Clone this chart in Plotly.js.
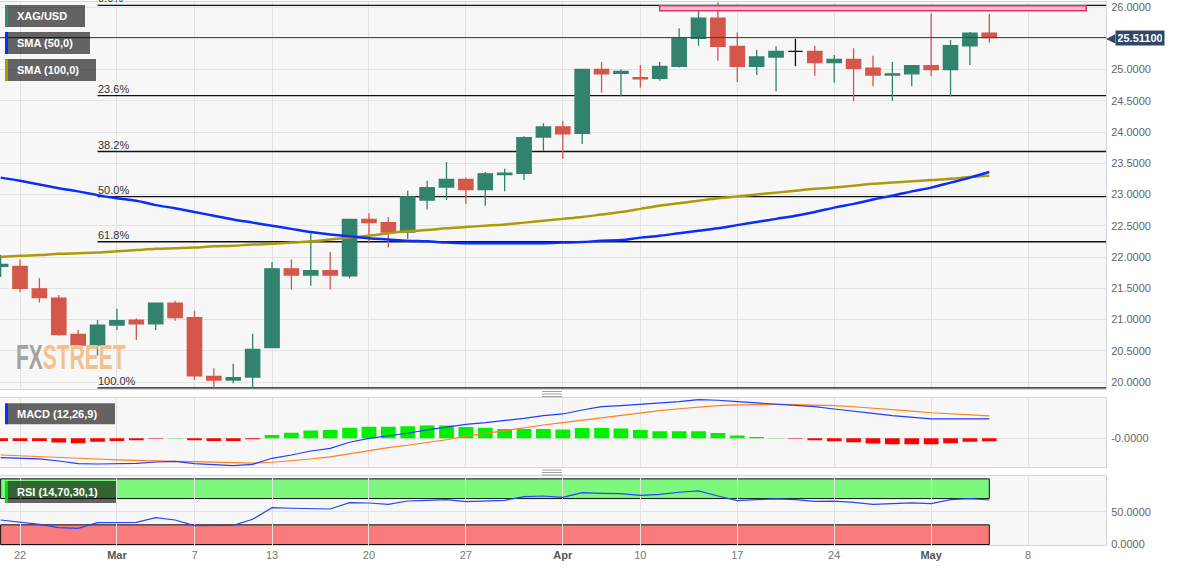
<!DOCTYPE html>
<html><head><meta charset="utf-8">
<script src="https://cdn.plot.ly/plotly-3.0.1.min.js"></script>
<style>html,body{margin:0;padding:0;background:#fff}#chart{width:1182px;height:571px}</style>
</head><body><div id="chart"></div>
<script>
// ---------- data ----------
const dates = ['2023-02-21','2023-02-22','2023-02-23','2023-02-24','2023-02-27','2023-02-28',
 '2023-03-01','2023-03-02','2023-03-03','2023-03-06','2023-03-07','2023-03-08','2023-03-09','2023-03-10',
 '2023-03-13','2023-03-14','2023-03-15','2023-03-16','2023-03-17','2023-03-20','2023-03-21','2023-03-22',
 '2023-03-23','2023-03-24','2023-03-27','2023-03-28','2023-03-29','2023-03-30','2023-03-31',
 '2023-04-03','2023-04-04','2023-04-05','2023-04-06','2023-04-10','2023-04-11','2023-04-12','2023-04-13',
 '2023-04-14','2023-04-17','2023-04-18','2023-04-19','2023-04-20','2023-04-21','2023-04-24','2023-04-25',
 '2023-04-26','2023-04-27','2023-04-28','2023-05-01','2023-05-02','2023-05-03','2023-05-04'];
const futureDates = ['2023-05-05','2023-05-08','2023-05-09','2023-05-10','2023-05-11','2023-05-12'];

const open  = [21.85,21.85,21.49,21.34,20.76,20.59,20.91,20.99,20.93,21.26,21.03,20.09,20.03,20.08,
 20.55,21.81,21.71,21.78,21.70,22.60,22.55,22.40,22.91,23.12,23.24,23.08,23.32,23.34,23.92,
 24.08,23.98,25.00,24.94,24.87,24.86,25.05,25.50,25.82,25.37,25.05,25.20,25.29,25.29,25.11,25.16,
 25.02,24.91,24.93,25.06,25.00,25.38,25.58];
const high  = [22.03,21.96,21.66,21.39,20.83,20.99,21.17,21.02,21.27,21.30,21.14,20.22,20.29,20.77,
 21.92,21.96,22.38,22.08,22.61,22.70,22.64,23.06,23.22,23.52,23.27,23.36,23.41,23.93,24.14,
 24.18,25.01,25.12,25.00,25.07,25.12,25.66,25.96,26.07,25.59,25.31,25.37,25.49,25.38,25.23,25.34,
 25.22,25.12,25.06,25.90,25.47,25.60,25.89];
const low   = [21.68,21.44,21.27,20.74,20.56,20.42,20.83,20.67,20.83,20.98,20.03,19.90,19.98,19.90,
 20.55,21.48,21.54,21.48,21.66,22.22,22.15,22.29,22.76,22.91,22.85,22.82,23.05,23.23,23.70,
 23.57,23.81,24.63,24.57,24.71,24.82,25.03,25.38,25.14,24.80,24.91,24.65,25.05,24.90,24.79,24.49,
 24.73,24.50,24.73,24.89,24.57,25.07,25.43];
const close = [21.88,21.50,21.35,20.76,20.59,20.91,20.98,20.93,21.26,21.03,20.10,20.03,20.07,20.52,
 21.81,21.71,21.78,21.71,22.60,22.55,22.40,22.96,23.11,23.24,23.08,23.33,23.34,23.91,24.08,
 23.97,25.00,24.93,24.97,24.85,25.05,25.50,25.82,25.37,25.05,25.20,25.29,25.29,25.11,25.16,25.02,
 24.91,24.93,25.06,25.00,25.38,25.58,25.511];

const sma50 = [23.27,23.22,23.16,23.10,23.05,22.99,22.94,22.90,22.83,22.78,22.72,22.66,22.60,22.55,
 22.50,22.45,22.40,22.36,22.33,22.30,22.28,22.26,22.25,22.23,22.22,22.22,22.22,22.22,22.22,
 22.23,22.24,22.26,22.27,22.31,22.34,22.38,22.42,22.46,22.51,22.56,22.61,22.66,22.72,22.79,22.85,
 22.92,22.98,23.05,23.11,23.19,23.27,23.36];
const sma100 = [22.00,22.02,22.03,22.05,22.06,22.07,22.09,22.11,22.13,22.14,22.15,22.17,22.18,22.20,
 22.21,22.23,22.25,22.28,22.31,22.34,22.38,22.41,22.43,22.46,22.48,22.50,22.52,22.55,22.58,
 22.61,22.64,22.68,22.72,22.77,22.82,22.86,22.90,22.94,22.97,23.00,23.03,23.06,23.09,23.11,23.14,
 23.17,23.19,23.21,23.23,23.25,23.28,23.30];

const macdLine = [-0.346,-0.357,-0.368,-0.405,-0.453,-0.459,-0.453,-0.446,-0.423,-0.411,-0.453,-0.477,-0.489,-0.464,
 -0.357,-0.298,-0.227,-0.179,-0.071,0.000,0.040,0.090,0.150,0.200,0.250,0.279,0.314,0.357,0.404,
 0.434,0.505,0.564,0.582,0.607,0.625,0.654,0.689,0.679,0.654,0.630,0.607,0.589,0.564,0.523,0.488,
 0.446,0.404,0.375,0.345,0.345,0.345,0.345];
const signalLine = [-0.298,-0.310,-0.322,-0.335,-0.352,-0.370,-0.385,-0.397,-0.405,-0.411,-0.418,-0.428,-0.438,-0.444,
 -0.428,-0.404,-0.370,-0.333,-0.275,-0.215,-0.168,-0.124,-0.076,-0.026,0.040,0.092,0.143,0.190,0.237,
 0.279,0.323,0.372,0.412,0.455,0.494,0.527,0.560,0.582,0.598,0.604,0.604,0.601,0.597,0.583,0.563,
 0.540,0.512,0.484,0.456,0.434,0.415,0.400];
const macdHist = [-0.048,-0.048,-0.048,-0.077,-0.089,-0.060,-0.048,-0.036,-0.010,0.005,-0.036,-0.048,-0.048,-0.018,
 0.060,0.100,0.137,0.149,0.190,0.208,0.208,0.214,0.226,0.226,0.202,0.190,0.167,0.167,0.167,
 0.155,0.184,0.184,0.173,0.149,0.125,0.125,0.125,0.095,0.048,0.024,0.005,-0.010,-0.036,-0.054,-0.071,
 -0.095,-0.107,-0.107,-0.107,-0.089,-0.060,-0.054];

const rsi = [37.3,33.8,30.8,25.6,24.7,33.2,33.8,33.8,40.9,37.3,28.7,28.7,29.2,38.4,
 56.1,55.2,55.2,54.1,63.7,63.2,61.0,66.3,67.3,68.3,65.2,66.8,67.3,72.9,73.9,
 71.9,79.0,78.0,77.5,75.0,76.5,79.6,81.6,73.9,66.8,68.3,69.4,68.3,65.8,66.1,64.3,
 61.3,62.2,63.3,62.2,68.3,69.8,67.8];

const tickDates  = ['2023-02-22','2023-03-01','2023-03-07','2023-03-13','2023-03-20','2023-03-27',
 '2023-04-03','2023-04-10','2023-04-17','2023-04-24','2023-05-01','2023-05-08'];
const tickLabels = ['22','Mar','7','13','20','27','Apr','10','17','24','May','8'];
const monthLabels = ['Mar','Apr','May'];
const priceTicks = [20,20.5,21,21.5,22,22.5,23,23.5,24,24.5,25,25.5,26];

const fibStartDate = '2023-02-28';
const fibLevels = [26.027,24.582,23.688,22.966,22.244,19.905];
const fibLabels = ['0.0%','23.6%','38.2%','50.0%','61.8%','100.0%'];

const zoneDates = ['2023-04-11','2023-05-11'];
const zonePrices = [25.94,26.02];
const rsiBands = [[70,100],[0,30]];

// ---------- helpers ----------
const allCats = dates.concat(futureDates);
const xRange = [-0.032, 57.02];
const lastClose = close[close.length-1];
const UP = '#32836d', DOWN = '#d5574a';

const idxBody = [], idxDoji = [];
open.forEach((o,i)=>{ (o===close[i] ? idxDoji : idxBody).push(i); });
const pick = (arr, idx) => idx.map(i=>arr[i]);

const traces = [
 {type:'candlestick', xaxis:'x', yaxis:'y', x:pick(dates,idxBody), open:pick(open,idxBody),
  high:pick(high,idxBody), low:pick(low,idxBody), close:pick(close,idxBody), whiskerwidth:0,
  increasing:{line:{color:UP,width:1.3}, fillcolor:UP},
  decreasing:{line:{color:DOWN,width:1.3}, fillcolor:DOWN}, hoverinfo:'none'},
 {type:'candlestick', xaxis:'x', yaxis:'y', x:pick(dates,idxDoji), open:pick(open,idxDoji),
  high:pick(high,idxDoji), low:pick(low,idxDoji), close:pick(close,idxDoji), whiskerwidth:0,
  increasing:{line:{color:'#111',width:1.3}, fillcolor:'#111'},
  decreasing:{line:{color:'#111',width:1.3}, fillcolor:'#111'}, hoverinfo:'none'},
 {type:'scatter', mode:'lines', xaxis:'x', yaxis:'y', x:dates, y:sma100,
  line:{color:'#ad9a06', width:2.5, shape:'spline'}, hoverinfo:'none'},
 {type:'scatter', mode:'lines', xaxis:'x', yaxis:'y', x:dates, y:sma50,
  line:{color:'#0a2dff', width:2.5, shape:'spline'}, hoverinfo:'none'},
 {type:'bar', xaxis:'x2', yaxis:'y2', x:dates, y:macdHist,
  marker:{color:macdHist.map(v=> v>=0 ? '#00f000' : '#ff0000'), line:{width:0}}, hoverinfo:'none'},
 {type:'scatter', mode:'lines', xaxis:'x2', yaxis:'y2', x:dates, y:signalLine,
  line:{color:'#ff7f1e', width:1.2}, hoverinfo:'none'},
 {type:'scatter', mode:'lines', xaxis:'x2', yaxis:'y2', x:dates, y:macdLine,
  line:{color:'#1f3dff', width:1.2}, hoverinfo:'none'},
 {type:'scatter', mode:'lines', xaxis:'x3', yaxis:'y3', x:dates, y:rsi,
  line:{color:'#2545ff', width:1.2}, hoverinfo:'none'}
];

const GRID = '#e3e3e3', BORDER = '#d2d6e0';
const xBase = {type:'category', categoryorder:'array', categoryarray:allCats, range:xRange,
  tickmode:'array', tickvals:tickDates, ticktext:tickLabels.map(t=> monthLabels.includes(t) ? '<b><span style="color:#555">'+t+'</span></b>' : t),
  showgrid:true, gridcolor:GRID, showline:true, mirror:true, linecolor:BORDER, linewidth:1,
  ticks:'', zeroline:false, fixedrange:true};
const yBase = {side:'right', showgrid:true, gridcolor:GRID, showline:true, mirror:true,
  linecolor:BORDER, linewidth:1, ticks:'', zeroline:false, fixedrange:true, ticklabelstandoff:2};

const shapes = [];
const annotations = [];

// fib lines
const fibStartIdx = allCats.indexOf(fibStartDate);
fibLevels.forEach((lv,k)=>{
  shapes.push({type:'line', xref:'x', yref:'y', x0:fibStartIdx, x1:xRange[1], y0:lv, y1:lv,
    line:{color:'#111', width:1.3}, layer:'between'});
  annotations.push({xref:'x', yref:'y', x:fibStartIdx, y:lv, xanchor:'left', yanchor:'bottom',
    xshift:-2, yshift:-1, showarrow:false, text:fibLabels[k], font:{size:11, color:'#333'}});
});
// resistance zone
shapes.push({type:'rect', xref:'x', yref:'y', x0:allCats.indexOf(zoneDates[0]), x1:allCats.indexOf(zoneDates[1]),
  y0:zonePrices[0], y1:zonePrices[1], line:{color:'#e5306a', width:1.6}, fillcolor:'#f6bfd0', layer:'above'});
// current price line + tag (tag box is an annotation so it sits over the axis labels)
shapes.push({type:'line', xref:'x domain', yref:'y', x0:0, x1:1, y0:lastClose, y1:lastClose,
  line:{color:'#33475f', width:1}, layer:'above'});
const TAG = '#2f4868';
annotations.push({xref:'paper', yref:'y', x:1, y:lastClose, xanchor:'left', yanchor:'middle', xshift:9, yshift:-0.7,
  showarrow:false, text:'<b>'+lastClose.toFixed(5)+'</b>', font:{size:11, color:'#fff'},
  bgcolor:TAG, borderpad:2, width:44, height:10});
annotations.push({xref:'paper', yref:'y', x:1, y:lastClose, xanchor:'right', yanchor:'middle', xshift:11.5, yshift:-0.7,
  showarrow:false, text:'<span style="color:'+TAG+'">◀</span>', font:{size:12, color:TAG}});

// RSI bands
rsiBands.forEach((b,k)=>{
  shapes.push({type:'rect', xref:'x3', yref:'y3', x0:0, x1:dates.length-1, y0:b[0], y1:b[1],
    fillcolor: k===0 ? '#7cf97c' : '#f97b7b', line:{color:'#111', width:1}, layer:'below'});
});

// panel labels
const labels = [
 {text:'XAG/USD',          stripe:'#2e8b74', ref:'y domain',  top:-3,  bot:-25, right:85},
 {text:'SMA (50,0)',       stripe:'#0a2dff', ref:'y domain',  top:-30, bot:-52, right:90},
 {text:'SMA (100,0)',      stripe:'#ad9a06', ref:'y domain',  top:-57, bot:-79, right:96},
 {text:'MACD (12,26,9)',   stripe:'#0a2dff', ref:'y2 domain', top:-5,  bot:-26, right:115},
 {text:'RSI (14,70,30,1)', stripe:'#00e000', ref:'y3 domain', top:-5,  bot:-27, right:116}
];
labels.forEach(l=>{
  shapes.push({type:'rect', xref:'paper', xsizemode:'pixel', xanchor:0, x0:8, x1:l.right,
    yref:l.ref, ysizemode:'pixel', yanchor:1, y0:l.top, y1:l.bot, fillcolor:'rgba(0,0,0,0.6)', line:{width:0}, layer:'above'});
  shapes.push({type:'rect', xref:'paper', xsizemode:'pixel', xanchor:0, x0:5, x1:8,
    yref:l.ref, ysizemode:'pixel', yanchor:1, y0:l.top, y1:l.bot, fillcolor:l.stripe, line:{width:0}, layer:'above'});
  annotations.push({xref:'paper', yref:l.ref, x:0, y:1, xanchor:'left', yanchor:'middle', xshift:15,
    yshift:(l.top+l.bot)/2, showarrow:false, text:'<b>'+l.text+'</b>', font:{size:11, color:'#fff'}});
});

// drag handles
[0.2781, 0.1335].forEach(py=>{
  [-2.5, 0, 2.5].forEach(dy=>{
    shapes.push({type:'line', xref:'paper', xsizemode:'pixel', xanchor:0.4991, yref:'paper', ysizemode:'pixel', yanchor:py,
      x0:-10, x1:10, y0:dy, y1:dy, line:{color:'#8a8a8a', width:0.8}});
  });
});

// watermark
annotations.push({xref:'paper', yref:'y domain', x:0.0125, y:0.085, xanchor:'left', yanchor:'middle', showarrow:false,
  text:'<b><span style="color:#a3a3a3">FX</span><span style="color:#f3c28c">STREET</span></b>',
  font:{size:35, family:'Liberation Sans, Arial, sans-serif'}});

const yTickText = priceTicks.map(v => Math.abs(v-lastClose) < 0.1 ? '' : v.toFixed(4));

const layout = {
  width:1182, height:571, margin:{l:0, r:76, t:2, b:26},
  paper_bgcolor:'#ffffff', plot_bgcolor:'#f7f7f7', showlegend:false,
  font:{family:'Liberation Sans, Arial, sans-serif', size:11, color:'#666'},
  boxgap:0.26, boxgroupgap:0, bargap:0.24, dragmode:false, hovermode:false,
  xaxis: Object.assign({}, xBase, {anchor:'y', showticklabels:false, rangeslider:{visible:false}}),
  xaxis2: Object.assign({}, xBase, {anchor:'y2', matches:'x', showticklabels:false}),
  xaxis3: Object.assign({}, xBase, {anchor:'y3', matches:'x', showticklabels:true, tickfont:{size:11, color:'#777'}}),
  yaxis: Object.assign({}, yBase, {anchor:'x', domain:[0.2873,1], range:[19.888,26.08], tickmode:'array',
    tickvals:priceTicks, ticktext:yTickText}),
  yaxis2: Object.assign({}, yBase, {anchor:'x2', domain:[0.1442,0.2702], range:[-0.507,0.714], tickmode:'array',
    tickvals:[0], ticktext:['-0.0000']}),
  yaxis3: Object.assign({}, yBase, {anchor:'x3', domain:[0,0.1271], range:[-0.76,104.4], tickmode:'array',
    tickvals:[0,50], tickformat:'.4f'}),
  shapes:shapes, annotations:annotations
};

Plotly.newPlot('chart', traces, layout, {displayModeBar:false, staticPlot:true}).then(gd=>{
  // condense the watermark lettering horizontally, keeping it real text
  gd.querySelectorAll('.annotation-text').forEach(t=>{
    if(t.textContent === 'FXSTREET'){
      const b = t.getBBox();
      const prev = t.getAttribute('transform') || '';
      t.setAttribute('transform', prev + ' translate(' + b.x + ',0) scale(0.6,1) translate(' + (-b.x) + ',0)');
    }
  });
});
</script></body></html>
